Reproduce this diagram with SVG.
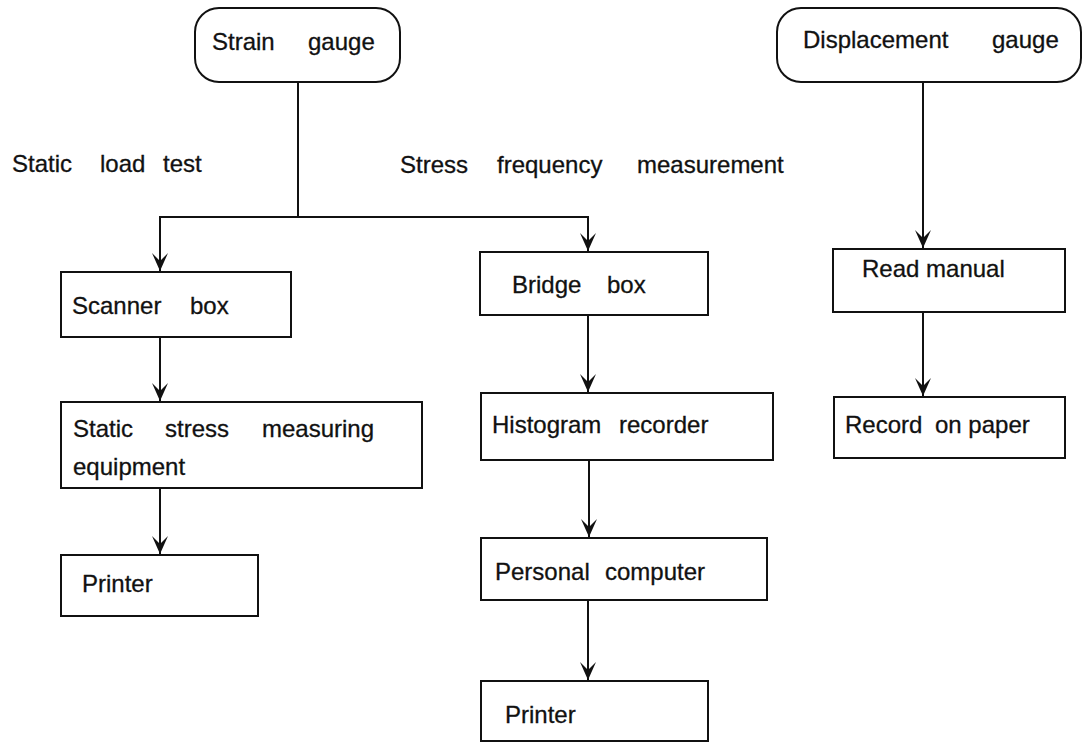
<svg xmlns="http://www.w3.org/2000/svg" width="1083" height="744" viewBox="0 0 1083 744">
  <style>
    .box { fill: #ffffff; stroke: #111111; stroke-width: 2; }
    .lbl { font-family: "Liberation Sans", Arial, Helvetica, sans-serif; font-size: 24px; fill: #111111; stroke: #111111; stroke-width: 0.3; }
    .wire { fill: none; stroke: #111111; stroke-width: 2; }
  </style>
  <defs>
    <marker id="arrow" markerUnits="userSpaceOnUse" markerWidth="22" markerHeight="20" viewBox="-20 -10 22 20" refX="0" refY="0" orient="auto">
      <path d="M0,0 L-18,-8 L-10,0 L-18,8 Z" fill="#111111"/>
    </marker>
  </defs>
  <rect width="1083" height="744" fill="#ffffff"/>

  <!-- connectors -->
  <g id="connectors" class="wire">
    <path d="M298,82 V217"/>
    <path d="M298,217 H160 V271" marker-end="url(#arrow)"/>
    <path d="M298,217 H588 V251" marker-end="url(#arrow)"/>
    <path d="M160,337 V401" marker-end="url(#arrow)"/>
    <path d="M160,488 V554" marker-end="url(#arrow)"/>
    <path d="M588,315 V392" marker-end="url(#arrow)"/>
    <path d="M589,460 V537" marker-end="url(#arrow)"/>
    <path d="M588,600 V680" marker-end="url(#arrow)"/>
    <path d="M923,82 V248" marker-end="url(#arrow)"/>
    <path d="M923,312 V396" marker-end="url(#arrow)"/>
  </g>

  <!-- branch labels -->
  <g id="label-static" class="lbl">
    <text x="12" y="172">Static</text>
    <text x="100" y="172">load</text>
    <text x="163" y="172">test</text>
  </g>
  <g id="label-stress" class="lbl">
    <text x="400" y="173">Stress</text>
    <text x="497" y="173">frequency</text>
    <text x="637" y="173">measurement</text>
  </g>

  <!-- sensors -->
  <g id="strain-gauge">
    <rect class="box" x="195" y="8" width="205" height="74" rx="24"/>
    <text class="lbl" x="212" y="50">Strain</text>
    <text class="lbl" x="308" y="50">gauge</text>
  </g>
  <g id="displacement-gauge">
    <rect class="box" x="777" y="8" width="304" height="74" rx="24"/>
    <text class="lbl" x="803" y="48">Displacement</text>
    <text class="lbl" x="992" y="48">gauge</text>
  </g>

  <!-- static load test chain -->
  <g id="scanner-box">
    <rect class="box" x="61" y="272" width="230" height="65"/>
    <text class="lbl" x="72" y="314">Scanner</text>
    <text class="lbl" x="190" y="314">box</text>
  </g>
  <g id="static-stress-equipment">
    <rect class="box" x="61" y="402" width="361" height="86"/>
    <text class="lbl" x="73" y="437">Static</text>
    <text class="lbl" x="165" y="437">stress</text>
    <text class="lbl" x="262" y="437">measuring</text>
    <text class="lbl" x="73" y="475">equipment</text>
  </g>
  <g id="printer-static">
    <rect class="box" x="61" y="555" width="197" height="61"/>
    <text class="lbl" x="82" y="592">Printer</text>
  </g>

  <!-- stress frequency chain -->
  <g id="bridge-box">
    <rect class="box" x="480" y="252" width="228" height="63"/>
    <text class="lbl" x="512" y="293">Bridge</text>
    <text class="lbl" x="607" y="293">box</text>
  </g>
  <g id="histogram-recorder">
    <rect class="box" x="481" y="393" width="292" height="67"/>
    <text class="lbl" x="492" y="433">Histogram</text>
    <text class="lbl" x="619" y="433">recorder</text>
  </g>
  <g id="personal-computer">
    <rect class="box" x="481" y="538" width="286" height="62"/>
    <text class="lbl" x="495" y="580">Personal</text>
    <text class="lbl" x="605" y="580">computer</text>
  </g>
  <g id="printer-frequency">
    <rect class="box" x="481" y="681" width="227" height="60"/>
    <text class="lbl" x="505" y="723">Printer</text>
  </g>

  <!-- displacement chain -->
  <g id="read-manual">
    <rect class="box" x="833" y="249" width="232" height="63"/>
    <text class="lbl" x="862" y="277">Read manual</text>
  </g>
  <g id="record-on-paper">
    <rect class="box" x="834" y="397" width="231" height="61"/>
    <text class="lbl" x="845" y="433">Record</text>
    <text class="lbl" x="935" y="433">on paper</text>
  </g>
</svg>
